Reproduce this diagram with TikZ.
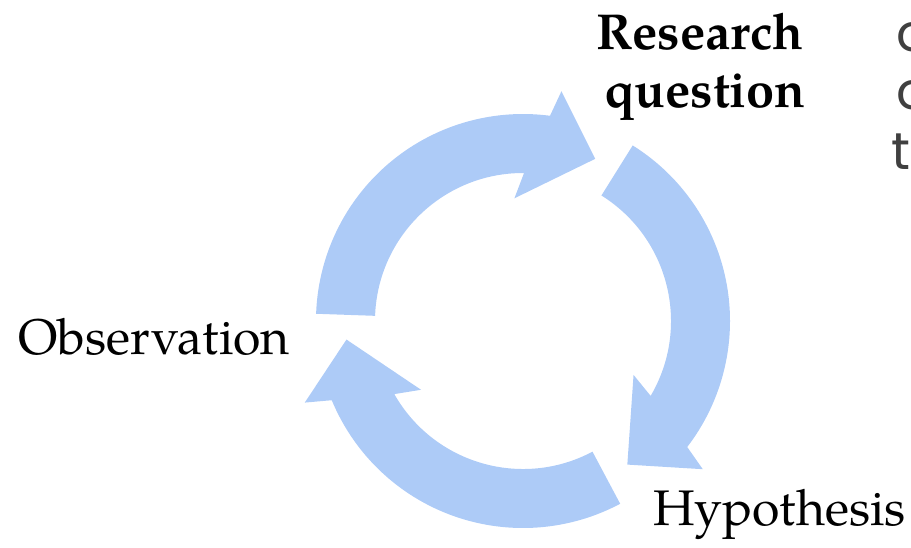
\documentclass[tikz,border=0pt]{standalone}
\usepackage{fontspec}
\setmainfont{TeX Gyre Pagella}
\newfontfamily\edgefont{Poppins}
\definecolor{cyclefill}{RGB}{173,203,247}
\tikzset{
  cyclearrow/.style={fill=cyclefill},
  stage/.style={font=\fontsize{50}{59}\selectfont, inner sep=0pt, anchor=base west},
  edgetext/.style={font=\edgefont\fontsize{52}{59}\selectfont, text=black!75, inner sep=0pt, anchor=base west},
}

\begin{document}
\begin{tikzpicture}[x=1pt, y=1pt]
\useasboundingbox (0,0) rectangle (911,547);
\clip (0,0) rectangle (911,547);
\coordinate (hub) at (523,226);
\fill[cyclearrow, shift={(hub)}, rotate=0] (178:207) arc[start angle=178, end angle=82.5, radius=207] -- (80.5:233) -- (66:177.5) -- (94:123) -- (89.6:148) arc[start angle=89.6, end angle=178, radius=148] -- cycle;
\fill[cyclearrow, shift={(hub)}, rotate=-120] (178:207) arc[start angle=178, end angle=82.5, radius=207] -- (80.5:233) -- (66:177.5) -- (94:123) -- (89.6:148) arc[start angle=89.6, end angle=178, radius=148] -- cycle;
\fill[cyclearrow, shift={(hub)}, rotate=120] (178:207) arc[start angle=178, end angle=82.5, radius=207] -- (80.5:233) -- (66:177.5) -- (94:123) -- (89.6:148) arc[start angle=89.6, end angle=178, radius=148] -- cycle;
\node[stage, anchor=base, font=\fontsize{50.5}{59}\selectfont\bfseries] (research) at (700,497) {Research};
\node[stage, anchor=base, font=\fontsize{50.5}{59}\selectfont\bfseries] (question) at (705,439) {question};
\node[stage] (observation) at (18,193) {Observation};
\node[stage] (hypothesis) at (653,22) {Hypothesis};
\node[edgetext] (edgea) at (896,495) {o};
\node[edgetext] (edgeb) at (896,437) {o};
\node[edgetext] (edgec) at (891,377) {t};
\end{tikzpicture}
\end{document}
